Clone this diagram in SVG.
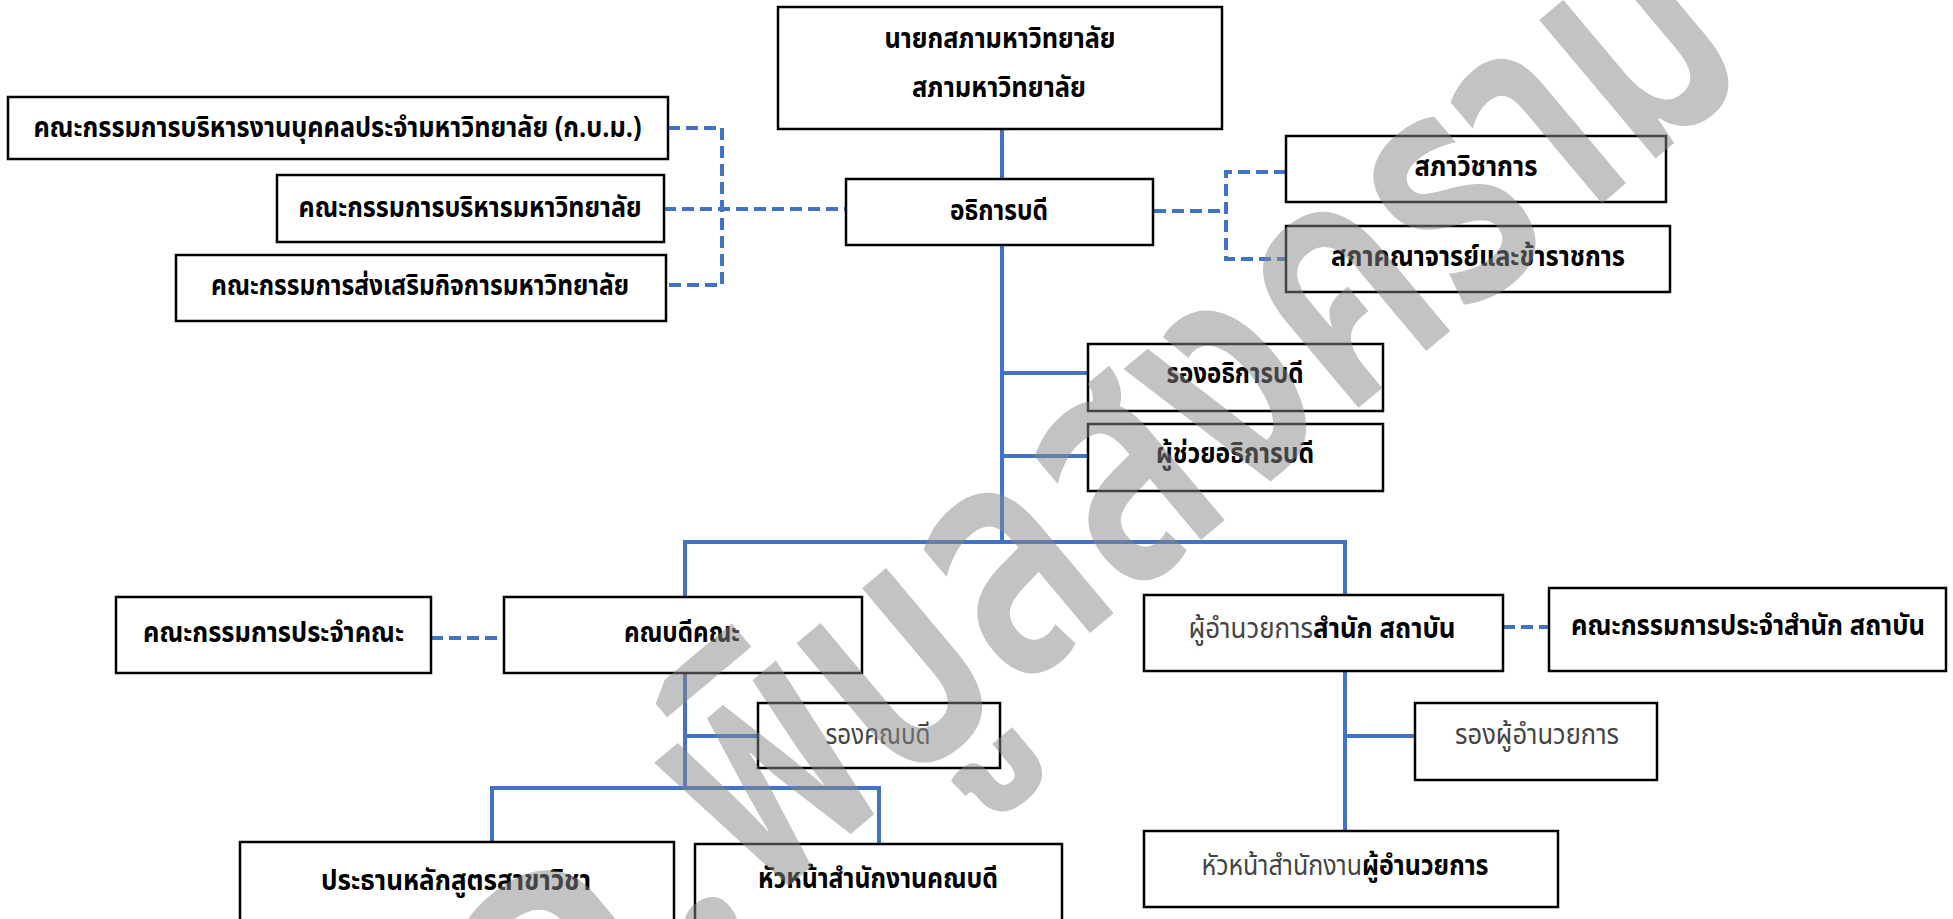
<svg xmlns="http://www.w3.org/2000/svg" width="1953" height="919" viewBox="0 0 1953 919">
<style>
.box{fill:#fff;stroke:#000;stroke-width:2.5}
.t{font-family:"Noto Sans Thai","Noto Sans Thai UI",Tahoma,"Noto Sans",sans-serif;font-size:28px;font-weight:bold;fill:#000;text-anchor:middle}
.g{fill:#444;font-weight:normal}
.solid{fill:none;stroke:#4472C4;stroke-width:4}
.dash{fill:none;stroke:#4472C4;stroke-width:4;stroke-dasharray:12 6}
.wm{font-family:"Noto Sans Thai","Noto Sans Thai UI","Noto Sans",sans-serif;font-size:330px;font-weight:600;fill:#888}
</style>
<rect width="1953" height="919" fill="#fff"/>
<g id="connectors">
<path class="solid" d="M1002 129V179M1002 245V542M1002 373H1088M1002 456H1088M685 542H1345M685 540V597M1345 540V595M685 673V788M685 736H758M492 788H879M492 786V842M879 786V844M1345 671V831M1345 736H1415"/>
<path class="dash" d="M668 128H722V285H666M664 209H846M1154 211H1226M1286 172H1226V259H1286M431 638H504M1503 627H1549"/>
</g>
<g id="n1"><rect class="box" x="8" y="97" width="660" height="62"/><text class="t" x="337.5" y="137" textLength="608" lengthAdjust="spacingAndGlyphs">คณะกรรมการบริหารงานบุคคลประจำมหาวิทยาลัย (ก.บ.ม.)</text></g>
<g id="n2"><rect class="box" x="277" y="175" width="387" height="67"/><text class="t" x="470" y="217" textLength="343" lengthAdjust="spacingAndGlyphs">คณะกรรมการบริหารมหาวิทยาลัย</text></g>
<g id="n3"><rect class="box" x="176" y="255" width="490" height="66"/><text class="t" x="420" y="295" textLength="418" lengthAdjust="spacingAndGlyphs">คณะกรรมการส่งเสริมกิจการมหาวิทยาลัย</text></g>
<g id="n4"><rect class="box" x="778" y="7" width="444" height="122"/><text class="t" x="1000" y="48" textLength="231" lengthAdjust="spacingAndGlyphs">นายกสภามหาวิทยาลัย</text><text class="t" x="999" y="97" textLength="174" lengthAdjust="spacingAndGlyphs">สภามหาวิทยาลัย</text></g>
<g id="n5"><rect class="box" x="846" y="179" width="307" height="66"/><text class="t" x="999" y="220" textLength="98" lengthAdjust="spacingAndGlyphs">อธิการบดี</text></g>
<g id="n6"><rect class="box" x="1286" y="136" width="380" height="66"/><text class="t" x="1476" y="176" textLength="123" lengthAdjust="spacingAndGlyphs">สภาวิชาการ</text></g>
<g id="n7"><rect class="box" x="1286" y="226" width="384" height="66"/><text class="t" x="1478" y="266" textLength="294" lengthAdjust="spacingAndGlyphs">สภาคณาจารย์และข้าราชการ</text></g>
<g id="n8"><rect class="box" x="1088" y="344" width="295" height="67"/><text class="t" x="1235" y="383" textLength="137" lengthAdjust="spacingAndGlyphs">รองอธิการบดี</text></g>
<g id="n9"><rect class="box" x="1088" y="424" width="295" height="67"/><text class="t" x="1235" y="463" textLength="158" lengthAdjust="spacingAndGlyphs">ผู้ช่วยอธิการบดี</text></g>
<g id="n10"><rect class="box" x="116" y="597" width="315" height="76"/><text class="t" x="273.5" y="642" textLength="261" lengthAdjust="spacingAndGlyphs">คณะกรรมการประจำคณะ</text></g>
<g id="n11"><rect class="box" x="504" y="597" width="358" height="76"/><text class="t" x="682" y="642" textLength="116" lengthAdjust="spacingAndGlyphs">คณบดีคณะ</text></g>
<g id="n12"><rect class="box" x="1144" y="595" width="359" height="76"/><text class="t" x="1322" y="638" textLength="267" lengthAdjust="spacingAndGlyphs"><tspan class="g">ผู้อำนวยการ</tspan>สำนัก สถาบัน</text></g>
<g id="n13"><rect class="box" x="1549" y="588" width="397" height="83"/><text class="t" x="1748" y="635" textLength="354" lengthAdjust="spacingAndGlyphs">คณะกรรมการประจำสำนัก สถาบัน</text></g>
<g id="n14"><rect class="box" x="758" y="703" width="242" height="65"/><text class="t g" x="878" y="744" textLength="105" lengthAdjust="spacingAndGlyphs">รองคณบดี</text></g>
<g id="n15"><rect class="box" x="1415" y="703" width="242" height="77"/><text class="t g" x="1537" y="744" textLength="164" lengthAdjust="spacingAndGlyphs">รองผู้อำนวยการ</text></g>
<g id="n16"><rect class="box" x="1144" y="831" width="414" height="76"/><text class="t" x="1345" y="875" textLength="287" lengthAdjust="spacingAndGlyphs"><tspan class="g">หัวหน้าสำนักงาน</tspan>ผู้อำนวยการ</text></g>
<g id="n17"><rect class="box" x="240" y="842" width="434" height="100"/><text class="t" x="456" y="890" textLength="270" lengthAdjust="spacingAndGlyphs">ประธานหลักสูตรสาขาวิชา</text></g>
<g id="n18"><rect class="box" x="695" y="844" width="367" height="100"/><text class="t" x="878" y="888" textLength="240" lengthAdjust="spacingAndGlyphs">หัวหน้าสำนักงานคณบดี</text></g>
<g id="watermark" opacity="0.5" transform="translate(760 910) rotate(-40)">
<text class="wm" x="0" y="0" text-anchor="end">มรภ.</text>
<text class="wm" x="5" y="0" textLength="1300" lengthAdjust="spacingAndGlyphs">พิบูลสงคราม</text>
</g>
</svg>
